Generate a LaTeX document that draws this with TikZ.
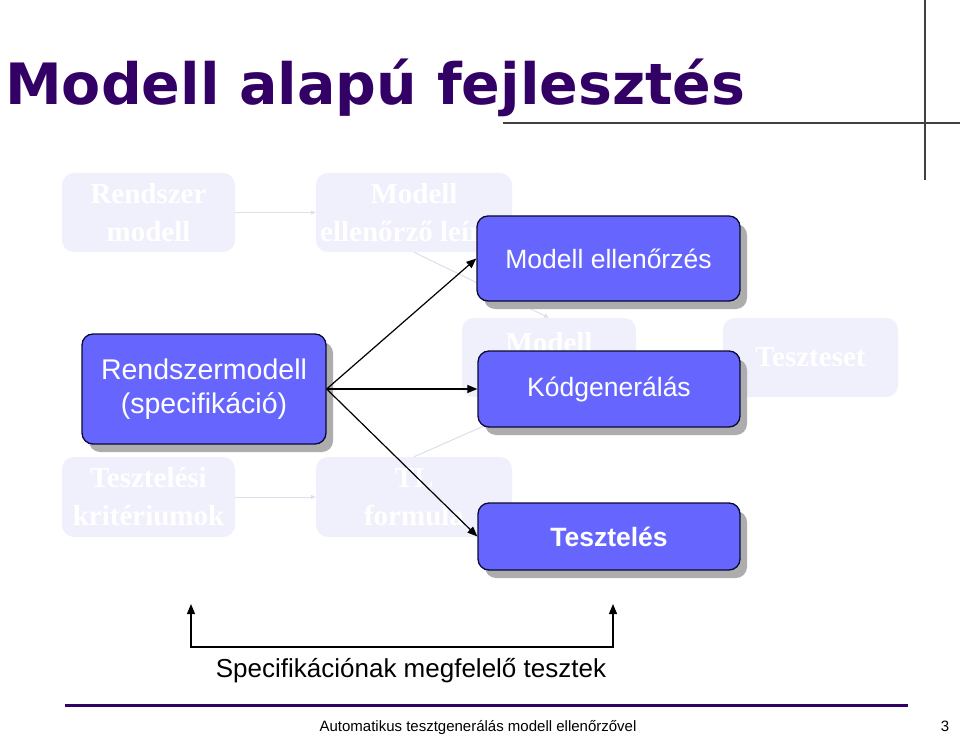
\documentclass[tikz,border=0pt]{standalone}
\usepackage{fontspec}
\setmainfont{Liberation Sans}
\newfontfamily\titlefont{DejaVu Sans}
\newfontfamily\serifbg{Liberation Serif}
\usetikzlibrary{shadows,arrows.meta}
\definecolor{titlepurple}{RGB}{51,0,102}
\definecolor{boxblue}{RGB}{102,102,255}
\definecolor{boxedge}{RGB}{10,10,50}
\definecolor{fadefill}{RGB}{240,240,253}
\definecolor{fadeline}{RGB}{222,222,236}
\definecolor{rulegrey}{RGB}{64,64,64}
\tikzset{
  mainbox/.style={draw=boxedge, line width=1.3pt, fill=boxblue, rounded corners=11pt,
    text=white, align=center, inner sep=0pt,
    drop shadow={shadow xshift=7pt, shadow yshift=-8pt, fill=black!32, opacity=1},
    font=\fontsize{26.5}{33}\selectfont},
  fadebox/.style={fill=fadefill, rounded corners=12pt, text=white, align=center, inner sep=0pt,
    font=\serifbg\bfseries\fontsize{29}{38}\selectfont},
  fadetext/.style={text=white, align=center, inner sep=0pt, font=\serifbg\bfseries\fontsize{29}{38}\selectfont},
  fadearrow/.style={draw=fadeline, line width=1pt, -{Triangle[length=5pt,width=4pt]}},
  mainarrow/.style={draw=black, line width=1.2pt, -{Triangle[length=10pt,width=8pt]}},
  bracketline/.style={draw=black, line width=1.2pt, {Triangle[length=10pt,width=8pt]}-{Triangle[length=10pt,width=8pt]}},
  ruleline/.style={draw=rulegrey, line width=1.6pt},
}
\begin{document}
\begin{tikzpicture}[x=1pt,y=-1pt]
\useasboundingbox[fill=white] (0,0) rectangle (960,743);

% title and top rules
\node[anchor=base west, text=titlepurple, inner sep=0pt,
  font=\titlefont\bfseries\fontsize{57}{60}\selectfont] (title) at (5,105) {Modell alapú fejlesztés};
\coordinate (h1) at (503,123);
\coordinate (h2) at (960,123);
\coordinate (v1) at (925,0);
\coordinate (v2) at (925,180);
\draw[ruleline] (h1) -- (h2);
\draw[ruleline] (v1) -- (v2);

% faded background diagram
\node[fadebox, minimum width=173pt, minimum height=79pt] (rs) at (148.5,212.5) {Rendszer\\modell};
\node[fadebox, minimum width=196pt, minimum height=79pt] (mbg) at (414,212.5) {Modell\\\makebox[0pt]{ellenőrző leírás}};
\node[fadebox, minimum width=174pt, minimum height=79pt] (mo) at (549,357.5) {};
\node[fadetext] (motext) at (549,343) {Modell};
\node[fadebox, minimum width=175pt, minimum height=79pt] (ts) at (810.5,357.5) {Teszteset};
\node[fadebox, minimum width=173pt, minimum height=80pt] (tk) at (148.5,497) {Tesztelési\\kritériumok};
\node[fadebox, minimum width=196pt, minimum height=80pt] (tl) at (414,497) {TL\\formula};
\draw[fadearrow] (rs) -- (mbg);
\draw[fadearrow] (tk) -- (tl);
\draw[fadearrow] (mbg.south) -- (mo.north);
\draw[fadearrow] (tl.north) -- (mo.south);

% main boxes
\node[mainbox, minimum width=244pt, minimum height=110pt, font=\fontsize{28.5}{34}\selectfont] (rm) at (204,389) {Rendszermodell\\(specifikáció)};
\node[mainbox, minimum width=263pt, minimum height=85pt] (me) at (608.5,258.5) {Modell ellenőrzés};
\node[mainbox, minimum width=262pt, minimum height=76pt] (kg) at (609,389) {Kódgenerálás};
\node[mainbox, minimum width=262pt, minimum height=67pt, font=\bfseries\fontsize{26.5}{33}\selectfont] (tz) at (609,536.5) {Tesztelés};

\draw[mainarrow] (rm.east) -- (me.west);
\draw[mainarrow] (rm.east) -- (kg.west);
\draw[mainarrow] (rm.east) -- (tz.west);

% bracket
\coordinate (bl) at (191,604);
\coordinate (bl1) at (191,647);
\coordinate (br1) at (613,647);
\coordinate (br) at (613,604);
\draw[bracketline] (bl) -- (bl1) -- (br1) -- (br);
\node[anchor=base, inner sep=0pt, font=\fontsize{26}{30}\selectfont] (spec) at (411,677) {Specifikációnak megfelelő tesztek};

% footer
\coordinate (f1) at (65,705);
\coordinate (f2) at (908,705);
\draw[draw=titlepurple, line width=3pt] (f1) -- (f2);
\node[anchor=base, inner sep=0pt, font=\fontsize{15}{18}\selectfont] (foot) at (478,731) {Automatikus tesztgenerálás modell ellenőrzővel};
\node[anchor=base, inner sep=0pt, font=\fontsize{15}{18}\selectfont] (pnum) at (945,731) {3};
\end{tikzpicture}
\end{document}
